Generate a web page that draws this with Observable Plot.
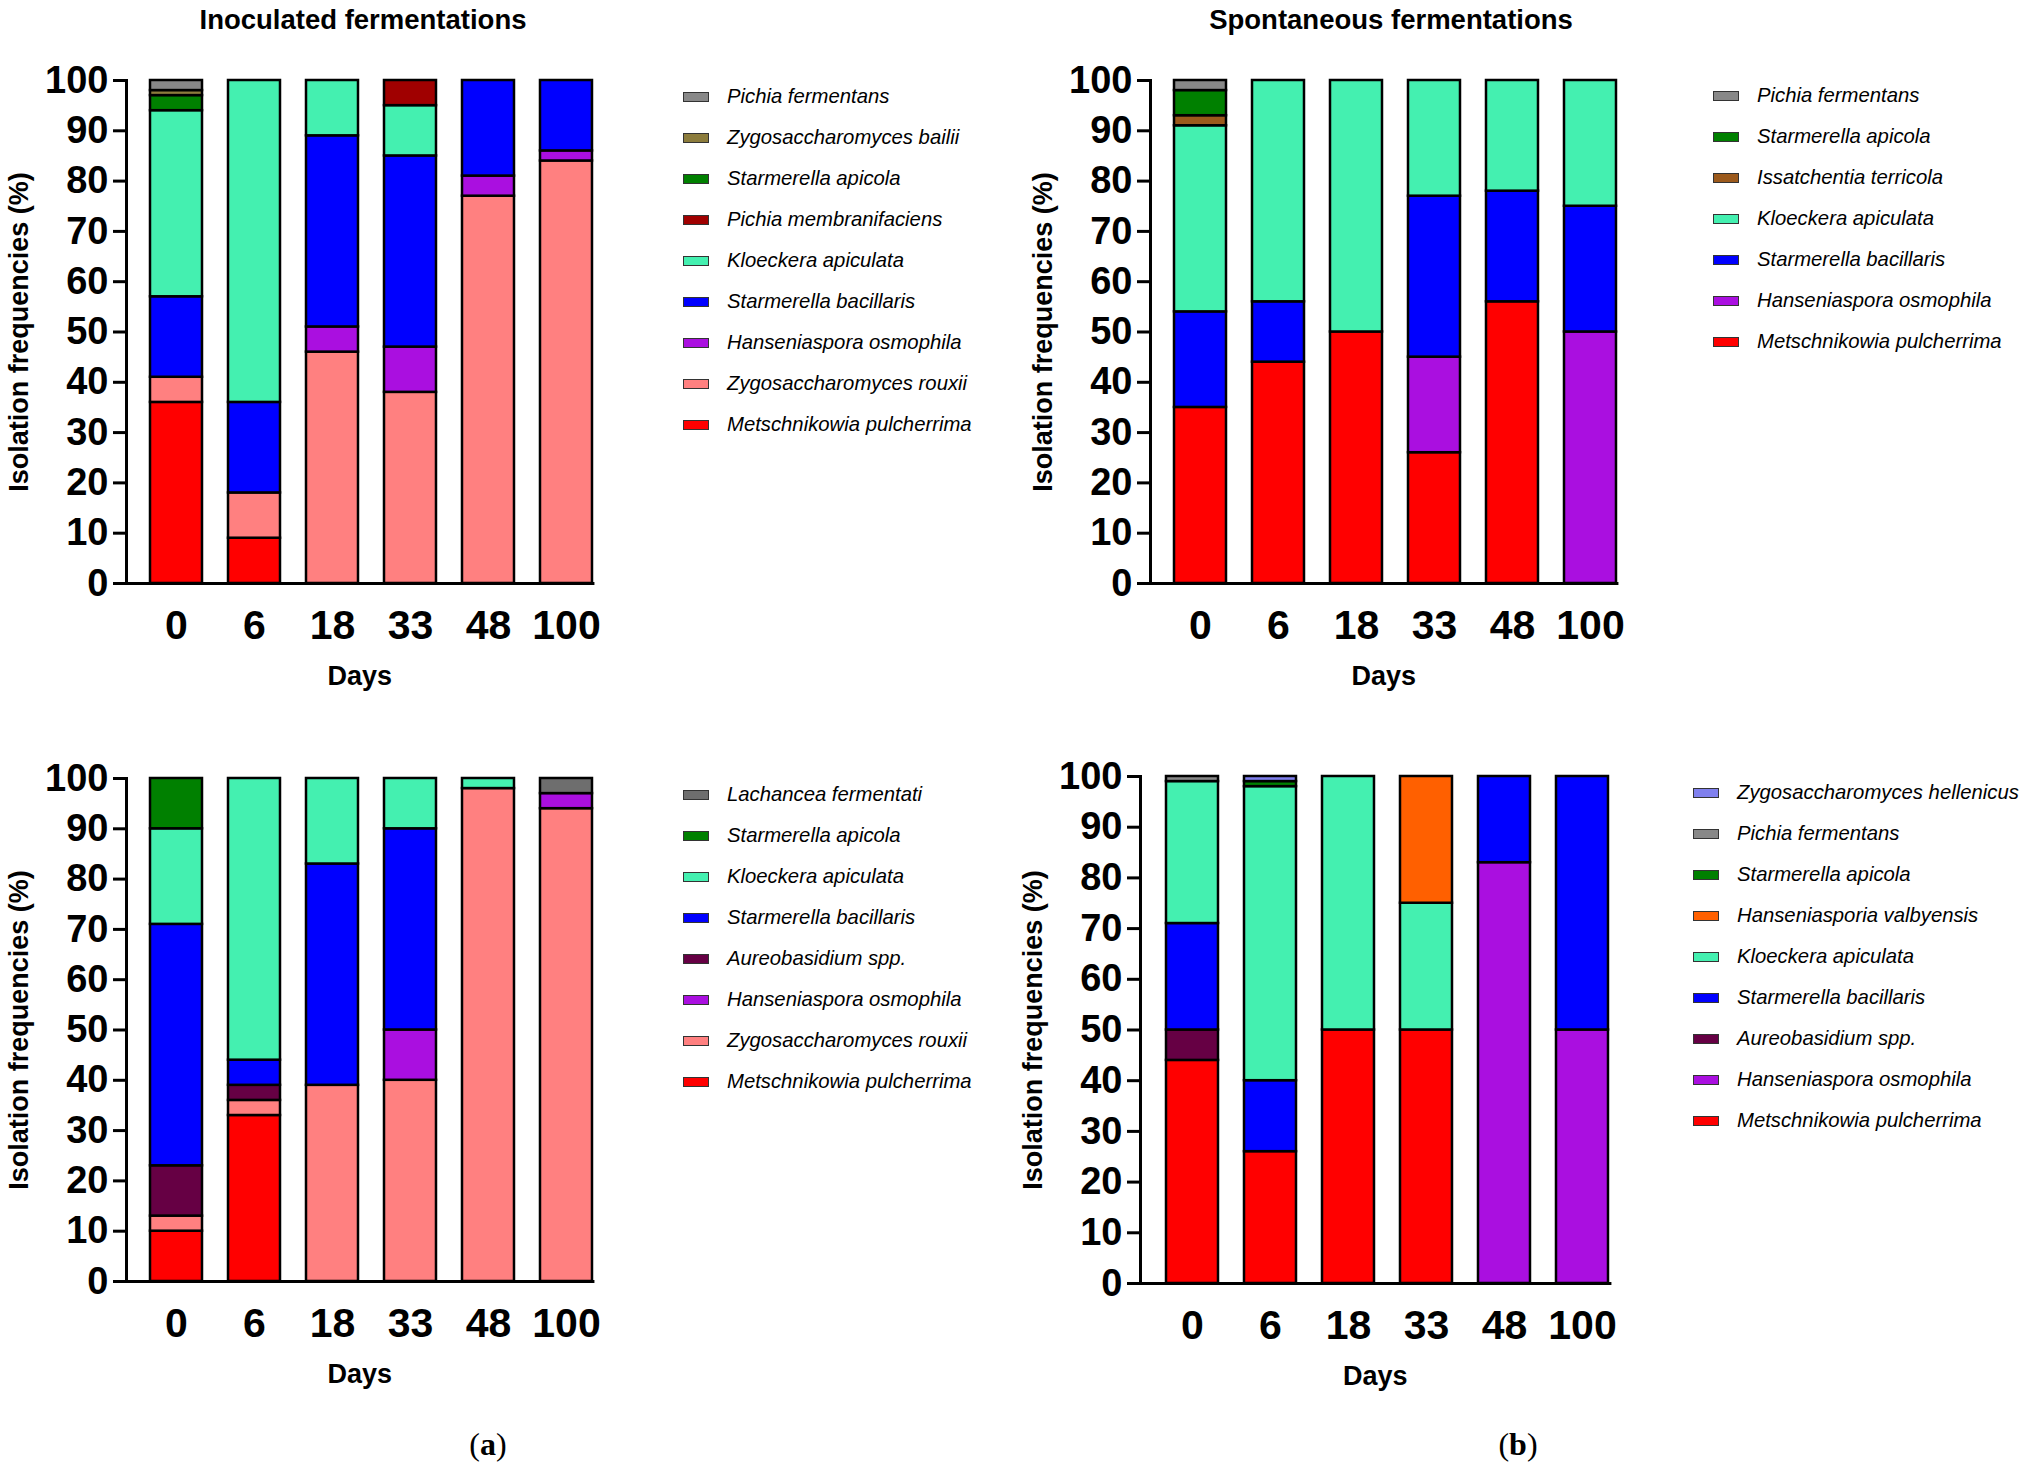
<!DOCTYPE html>
<html><head><meta charset="utf-8">
<script src="https://cdn.jsdelivr.net/npm/d3@7"></script>
<script src="https://cdn.jsdelivr.net/npm/@observablehq/plot@0.6"></script>
<style>
body{margin:0;background:#fff;font-family:Arial,"Liberation Sans",sans-serif;}
#root{position:relative;width:2031px;height:1476px;}
svg{overflow:visible;}
.title{position:absolute;font-weight:bold;font-size:27.5px;transform:translateX(-50%);white-space:nowrap;}
.leg{position:absolute;font-style:italic;font-size:20.3px;}
.leg div{height:41px;display:flex;align-items:center;}
.sw{width:26px;height:10px;border:1.5px solid #333;margin-right:18px;box-sizing:border-box;}
.cap{position:absolute;font-family:"Liberation Serif",serif;font-size:32px;transform:translateX(-50%);}
</style></head><body><div id="root"></div>
<script>
const days = ["0","6","18","33","48","100"];
const colors = {
 "Metschnikowia pulcherrima":"#ff0000","Zygosaccharomyces rouxii":"#ff8080","Hanseniaspora osmophila":"#aa0fe0",
 "Starmerella bacillaris":"#0000ff","Kloeckera apiculata":"#44f0b0","Pichia membranifaciens":"#a00000",
 "Starmerella apicola":"#008000","Zygosaccharomyces bailii":"#8c7c3c","Pichia fermentans":"#888888",
 "Issatchentia terricola":"#9c5a1c","Aureobasidium spp.":"#660044","Lachancea fermentati":"#6e6e6e",
 "Hanseniasporia valbyensis":"#ff6000","Zygosaccharomyces hellenicus":"#8080ee"};
// Panel A: inoculated, top
const seriesA = [
 ["Metschnikowia pulcherrima",[36,9,0,0,0,0]],
 ["Zygosaccharomyces rouxii",[5,9,46,38,77,84]],
 ["Hanseniaspora osmophila",[0,0,5,9,4,2]],
 ["Starmerella bacillaris",[16,18,38,38,19,14]],
 ["Kloeckera apiculata",[37,64,11,10,0,0]],
 ["Pichia membranifaciens",[0,0,0,5,0,0]],
 ["Starmerella apicola",[3,0,0,0,0,0]],
 ["Zygosaccharomyces bailii",[1,0,0,0,0,0]],
 ["Pichia fermentans",[2,0,0,0,0,0]]];
// Panel B: spontaneous, top
const seriesB = [
 ["Metschnikowia pulcherrima",[35,44,50,26,56,0]],
 ["Hanseniaspora osmophila",[0,0,0,19,0,50]],
 ["Starmerella bacillaris",[19,12,0,32,22,25]],
 ["Kloeckera apiculata",[37,44,50,23,22,25]],
 ["Issatchentia terricola",[2,0,0,0,0,0]],
 ["Starmerella apicola",[5,0,0,0,0,0]],
 ["Pichia fermentans",[2,0,0,0,0,0]]];
// Panel C: inoculated, bottom
const seriesC = [
 ["Metschnikowia pulcherrima",[10,33,0,0,0,0]],
 ["Zygosaccharomyces rouxii",[3,3,39,40,98,94]],
 ["Hanseniaspora osmophila",[0,0,0,10,0,3]],
 ["Aureobasidium spp.",[10,3,0,0,0,0]],
 ["Starmerella bacillaris",[48,5,44,40,0,0]],
 ["Kloeckera apiculata",[19,56,17,10,2,0]],
 ["Starmerella apicola",[10,0,0,0,0,0]],
 ["Lachancea fermentati",[0,0,0,0,0,3]]];
// Panel D: spontaneous, bottom
const seriesD = [
 ["Metschnikowia pulcherrima",[44,26,50,50,0,0]],
 ["Hanseniaspora osmophila",[0,0,0,0,83,50]],
 ["Aureobasidium spp.",[6,0,0,0,0,0]],
 ["Starmerella bacillaris",[21,14,0,0,17,50]],
 ["Kloeckera apiculata",[28,58,50,25,0,0]],
 ["Hanseniasporia valbyensis",[0,0,0,25,0,0]],
 ["Starmerella apicola",[0,1,0,0,0,0]],
 ["Pichia fermentans",[1,0,0,0,0,0]],
 ["Zygosaccharomyces hellenicus",[0,1,0,0,0,0]]];

const root = document.getElementById("root");
function panel(series, axisX, top, plotH, step, legX, legY, title, titleX){
  const rows=[];
  series.forEach(([sp,vals],k)=>vals.forEach((v,i)=>{ if(v>0) rows.push({day:days[i],sp,v,k}); }));
  const ml=130, gap=step*0.31, inner=gap+step*(6-0.33);
  const chart = Plot.plot({
    width: ml+inner, height: plotH+10+110,
    marginLeft: ml, marginRight: 0, marginTop: 10, marginBottom: 110,
    style:{fontFamily:"Arial, Liberation Sans, sans-serif", fontWeight:"bold", color:"#000", overflow:"visible"},
    x:{domain:days, paddingInner:0.33, paddingOuter:0, range:[ml+gap, ml+inner], label:null},
    y:{domain:[0,100], label:null},
    marks:[
      Plot.barY(rows,{x:"day", y:"v", fill:d=>colors[d.sp], order:d=>d.k, stroke:"#000", strokeWidth:2.5, sort:null}),
      Plot.axisY({ticks:d3.range(0,101,10), tickSize:13, strokeWidth:3, fontSize:38, tickPadding:5,
        label:"Isolation frequencies (%)", labelAnchor:"center", labelArrow:"none", labelOffset:118}),
      Plot.axisX({tickSize:0, fontSize:41, tickPadding:26, label:"Days", labelAnchor:"center", labelArrow:"none", labelOffset:102}),
      Plot.frame({anchor:"left", strokeWidth:3}),
      Plot.frame({anchor:"bottom", strokeWidth:3})
    ]});
  chart.querySelectorAll("g[aria-label='y-axis label'] text, g[aria-label='x-axis label'] text").forEach(t=>t.setAttribute("font-size","27"));
  chart.style.position="absolute"; chart.style.left=(axisX-ml)+"px"; chart.style.top=(top-10)+"px";
  root.appendChild(chart);
  const leg=document.createElement("div"); leg.className="leg"; leg.style.left=legX+"px"; leg.style.top=legY+"px";
  series.slice().reverse().forEach(([sp])=>{
    const r=document.createElement("div");
    r.innerHTML=`<span class="sw" style="background:${colors[sp]}"></span><span>${sp}</span>`;
    leg.appendChild(r);
  });
  root.appendChild(leg);
  if(title){const t=document.createElement("div");t.className="title";t.textContent=title;t.style.left=titleX+"px";t.style.top="4px";root.appendChild(t);}
}
panel(seriesA,126,80,503,78,683,76,"Inoculated fermentations",363);
panel(seriesB,1150,80,503,78,1713,75,"Spontaneous fermentations",1391);
panel(seriesC,126,778,503,78,683,774,null);
panel(seriesD,1140,776,507,78.5,1693,772,null);
const ca=document.createElement("div");ca.className="cap";ca.innerHTML="(<b>a</b>)";ca.style.left="488px";ca.style.top="1426px";root.appendChild(ca);
const cb=document.createElement("div");cb.className="cap";cb.innerHTML="(<b>b</b>)";cb.style.left="1518px";cb.style.top="1426px";root.appendChild(cb);
</script></body></html>
